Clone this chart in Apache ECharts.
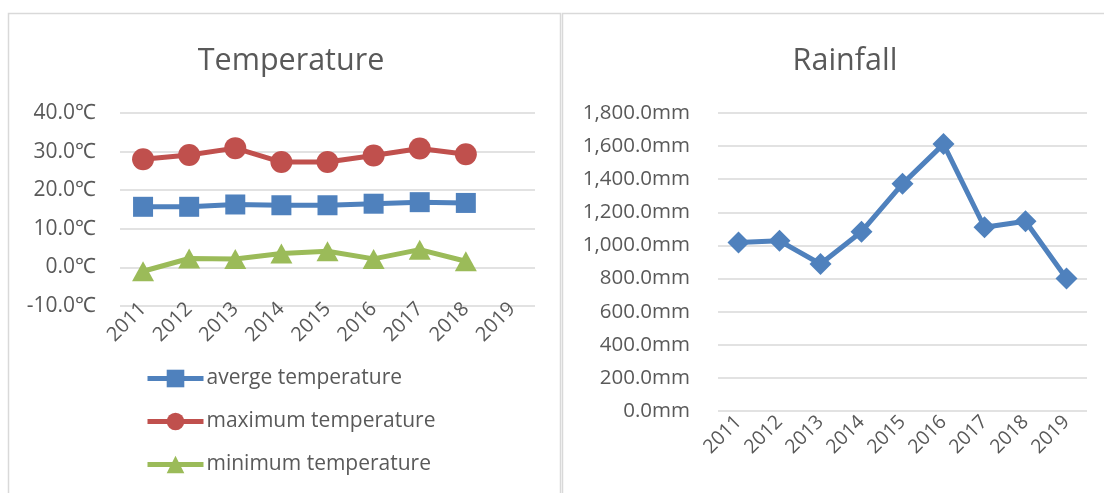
<!DOCTYPE html>
<html>
<head>
<meta charset="utf-8">
<script src="https://cdn.jsdelivr.net/npm/echarts@6/dist/echarts.min.js"></script>
<style>
html,body{margin:0;padding:0;background:#fff;}
#c{width:1104px;height:493px;}
</style>
</head>
<body>
<div id="c"></div>
<script>
const years = ['2011','2012','2013','2014','2015','2016','2017','2018','2019'];
const avgTemp = [15.7, 15.7, 16.3, 16.1, 16.1, 16.5, 16.9, 16.7, null];
const maxTemp = [28.0, 29.1, 30.9, 27.3, 27.3, 29.0, 30.8, 29.3, null];
const minTemp = [-1.0, 2.3, 2.2, 3.6, 4.2, 2.2, 4.6, 1.6, null];
const rainfall = [1018, 1028, 888, 1083, 1372, 1612, 1110, 1146, 800];
const tempTicks = [-10, 0, 10, 20, 30, 40];
const rainTicks = [0, 200, 400, 600, 800, 1000, 1200, 1400, 1600, 1800];

const FONT = 'Open Sans';
const TXT = '#595959';
const GRIDC = '#d9d9d9';

const chart = echarts.init(document.getElementById('c'), null, {renderer: 'canvas'});

function fmtNum(v, dec) {
  return v.toLocaleString('en-US', {minimumFractionDigits: dec, maximumFractionDigits: dec});
}

const option = {
  backgroundColor: '#fff',
  animation: false,
  textStyle: {fontFamily: FONT},
  graphic: [
    {type: 'rect', shape: {x: 8.5, y: 13.5, width: 552, height: 490}, style: {fill: 'none', stroke: GRIDC, lineWidth: 1.5}},
    {type: 'rect', shape: {x: 562.5, y: 13.5, width: 560, height: 490}, style: {fill: 'none', stroke: GRIDC, lineWidth: 1.5}}
  ],
  title: [
    {text: 'Temperature', left: 286, top: 41, textAlign: 'center',
     textStyle: {fontFamily: FONT, fontSize: 30.5, fontWeight: 'normal', color: TXT}},
    {text: 'Rainfall', left: 840, top: 41, textAlign: 'center',
     textStyle: {fontFamily: FONT, fontSize: 30.5, fontWeight: 'normal', color: TXT}}
  ],
  legend: {
    orient: 'vertical', left: 140, top: 363, itemGap: 22,
    itemWidth: 56, itemHeight: 22,
    lineStyle: {width: 5},
    data: ['averge temperature', 'maximum temperature', 'minimum temperature'],
    textStyle: {fontFamily: FONT, fontSize: 21, color: TXT, padding: [0, 0, 0, -2]}
  },
  grid: [
    {left: 120, top: 113, width: 415, height: 193, containLabel: false},
    {left: 718, top: 113, width: 369, height: 298, containLabel: false}
  ],
  xAxis: [
    {type: 'category', gridIndex: 0, data: years, boundaryGap: true,
     axisLine: {show: false}, axisTick: {show: false},
     axisLabel: {rotate: 45, interval: 0, fontFamily: FONT, fontSize: 20, color: TXT, margin: 0}},
    {type: 'category', gridIndex: 1, data: years, boundaryGap: true,
     axisLine: {show: false}, axisTick: {show: false},
     axisLabel: {rotate: 45, interval: 0, fontFamily: FONT, fontSize: 19.5, color: TXT, margin: 8}}
  ],
  yAxis: [
    {type: 'value', gridIndex: 0, min: tempTicks[0], max: tempTicks[tempTicks.length - 1], interval: 10,
     axisLine: {show: false}, axisTick: {show: false},
     splitLine: {lineStyle: {color: GRIDC, width: 1.5}},
     axisLabel: {fontFamily: FONT, fontSize: 21, color: TXT, margin: 24,
       formatter: v => fmtNum(v, 1) + '℃'}},
    {type: 'value', gridIndex: 1, min: rainTicks[0], max: rainTicks[rainTicks.length - 1], interval: 200,
     axisLine: {show: false}, axisTick: {show: false},
     splitLine: {lineStyle: {color: GRIDC, width: 1.5}},
     axisLabel: {fontFamily: FONT, fontSize: 20.5, color: TXT, margin: 28,
       formatter: v => fmtNum(v, 1) + 'mm'}}
  ],
  series: [
    {name: 'averge temperature', type: 'line', xAxisIndex: 0, yAxisIndex: 0, data: avgTemp,
     symbol: 'rect', symbolSize: 20, color: '#4f81bd', lineStyle: {width: 5, color: '#4f81bd'},
     itemStyle: {color: '#4f81bd'}},
    {name: 'maximum temperature', type: 'line', xAxisIndex: 0, yAxisIndex: 0, data: maxTemp,
     symbol: 'circle', symbolSize: 22, color: '#c0504d', lineStyle: {width: 5, color: '#c0504d'},
     itemStyle: {color: '#c0504d'}},
    {name: 'minimum temperature', type: 'line', xAxisIndex: 0, yAxisIndex: 0, data: minTemp,
     symbol: 'triangle', symbolSize: [22, 20], color: '#9bbb59', lineStyle: {width: 5, color: '#9bbb59'},
     itemStyle: {color: '#9bbb59'}},
    {name: 'Rainfall', type: 'line', xAxisIndex: 1, yAxisIndex: 1, data: rainfall,
     symbol: 'diamond', symbolSize: 22, color: '#4f81bd', lineStyle: {width: 5, color: '#4f81bd'},
     itemStyle: {color: '#4f81bd'}}
  ]
};
chart.setOption(option);
</script>
</body>
</html>
